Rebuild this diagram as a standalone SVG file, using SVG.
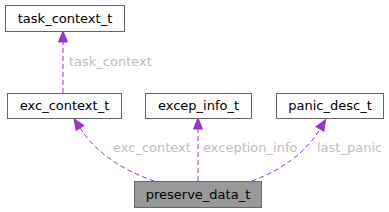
<svg xmlns="http://www.w3.org/2000/svg" width="389" height="212" viewBox="0 0 389 212">
<style>
.node rect{fill:#ffffff;stroke:#666666;stroke-width:1}
.node.main rect{fill:#999999}
.node text{font-family:"DejaVu Sans",sans-serif;font-size:13px;fill:#000000;text-anchor:middle}
.edge path{fill:none;stroke:#9a32cd;stroke-width:1;stroke-dasharray:5,3}
.lbl{font-family:"DejaVu Sans",sans-serif;font-size:13px;fill:#bebebe}
</style>
<defs>
<marker id="ah" markerUnits="userSpaceOnUse" markerWidth="12" markerHeight="10" refX="0" refY="4.5" orient="auto" overflow="visible">
<path d="M0,0 L11,4.5 L0,9 z" fill="#9a32cd" stroke="#9a32cd" stroke-width="1"/>
</marker>
</defs>
<rect width="389" height="212" fill="#ffffff"/>
<g id="edges" class="edge">
<path d="M63,93 L63,42" marker-end="url(#ah)"/>
<path d="M154,181 C128,172 98,156 80,128" marker-end="url(#ah)"/>
<path d="M198,181 L198,129" marker-end="url(#ah)"/>
<path d="M252,181 C276,172 304,156 320,129" marker-end="url(#ah)"/>
</g>
<g id="edge-labels">
<text class="lbl" x="69" y="66">task_context</text>
<text class="lbl" x="113" y="152">exc_context</text>
<text class="lbl" x="203" y="152">exception_info</text>
<text class="lbl" x="317" y="152">last_panic</text>
</g>
<g id="task_context_t" class="node"><rect x="5.5" y="5.5" width="119" height="26"/><text x="65" y="23">task_context_t</text></g>
<g id="exc_context_t" class="node"><rect x="7.5" y="93.5" width="114" height="25"/><text x="64.5" y="110">exc_context_t</text></g>
<g id="excep_info_t" class="node"><rect x="145.5" y="93.5" width="106" height="25"/><text x="198.5" y="110">excep_info_t</text></g>
<g id="panic_desc_t" class="node"><rect x="276.5" y="93.5" width="107" height="25"/><text x="330" y="110">panic_desc_t</text></g>
<g id="preserve_data_t" class="node main"><rect x="134.5" y="181.5" width="127" height="26"/><text x="198" y="199">preserve_data_t</text></g>
</svg>
